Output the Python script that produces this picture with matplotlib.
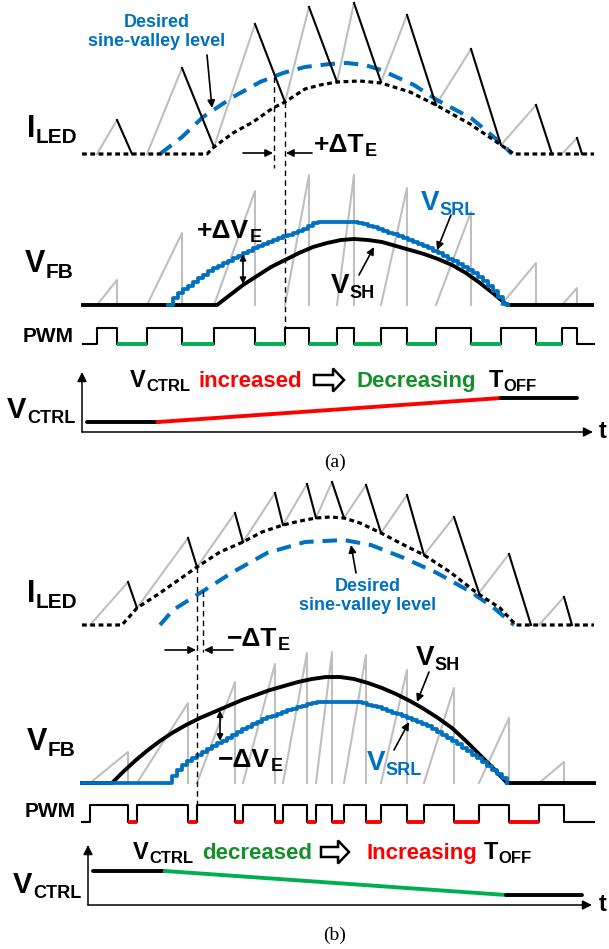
import numpy as np
import matplotlib.pyplot as plt
from matplotlib.patches import FancyArrow

plt.rcParams['font.family'] = ['Liberation Sans', 'DejaVu Sans']
plt.rcParams['font.weight'] = 'bold'

W, H = 609, 949
BLUE, GRAY, RED = '#0070C0', '#BFBFBF', '#FF0000'
GREEN, GREEN_TXT = '#00B050', '#14902A'
AXC = '#3F3F3F'

# ---------------- (a) V_CTRL increased ----------------
# time axis in px, levels in px above each trace's baseline
pwm_rise_a = [97, 147, 214, 285, 337, 381, 436, 501, 562]
pwm_fall_a = [117, 182, 255, 309, 354, 407, 471, 536, 577]
iled_valley_a = [0, 0, 7, 52, 72, 72, 49, 9, 0]
iled_peak_a = [34, 86, 130, 147, 151, 139, 105, 49, 16]
iled_end_x_a = [132, 214, 285, 337, 381, 436, 501, 552, 582]
iled_end_a = [0, 7, 52, 72, 72, 49, 9, 0, 0]
valley_x_a = [82, 207, 214, 233, 253, 273, 285, 305, 320, 337, 360, 381, 410, 436, 470, 501, 514, 594]
valley_a = [0, 0, 7, 21, 32, 46, 52, 65, 69, 72, 73, 71, 62, 49, 30, 9, 0, 0]
desired_x_a = [160, 182, 203, 233, 260, 283, 305, 330, 347, 365, 381, 414, 437, 471, 501, 512]
desired_a = [0, 17, 37, 57, 72, 81, 87, 90, 91, 89, 84, 69, 54, 36, 11, 0]
ramp_pk_a = [25, 72, 114, 130, 130, 117, 93, 42, 17]
vsh_x_a = [83, 217, 230, 243, 257, 271, 285, 299, 313, 327, 341, 354, 368, 382,
           396, 410, 424, 438, 452, 466, 480, 494, 507, 592]
vsh_a = [0, 0, 10, 20, 29, 38, 45, 52, 58, 62, 65, 66, 65, 63,
         59, 55, 51, 46, 40, 32, 22, 11, 0, 0]
srl_t0_a, srl_flat_a = 168, 168
srl_a = [0, 7, 12, 16, 19, 23, 27, 30, 34, 37,
         39, 42, 44, 47, 49, 52, 54, 57, 59, 61,
         63, 65, 67, 69, 70, 72, 74, 76, 79, 82,
         83, 83, 83, 83, 83, 83, 83, 83, 82, 81,
         79, 78, 76, 74, 72, 71, 69, 67, 65, 63,
         61, 59, 57, 54, 52, 49, 46, 44, 41, 38,
         35, 32, 28, 24, 19, 14, 8, 1, 0]
vctrl_x_a = [87, 158, 501, 577]
vctrl_a = [10, 10, 34, 34]
dte_a = [274, 285]

# ---------------- (b) V_CTRL decreased ----------------
pwm_rise_b = [90, 137, 197, 243, 283, 316, 344, 381, 424, 479, 539]
pwm_fall_b = [128, 188, 235, 275, 307, 332, 366, 407, 454, 509, 564]
iled_valley_b = [0, 17, 58, 83, 100, 107, 107, 92, 70, 32, 0]
iled_peak_b = [43, 87, 112, 132, 141, 143, 140, 130, 108, 71, 28]
iled_end_x_b = [137, 197, 243, 283, 316, 344, 381, 424, 479, 531, 572]
iled_end_b = [17, 58, 83, 100, 107, 107, 92, 70, 32, 0, 0]
valley_x_b = [82, 122, 137, 160, 197, 220, 243, 262, 283, 300, 316, 330, 344, 360,
              381, 400, 424, 450, 477, 500, 516, 594]
valley_b = [0, 0, 17, 32, 58, 73, 83, 93, 100, 104, 107, 108, 107, 102,
            92, 82, 70, 53, 32, 17, 0, 0]
desired_x_b = [160, 173, 200, 233, 267, 305, 344, 371, 404, 437, 471, 494, 514]
desired_b = [0, 15, 32, 53, 72, 83, 85, 80, 67, 52, 33, 17, 0]
ramp_pk_b = [31, 80, 101, 119, 130, 131, 128, 113, 95, 65, 21]
vsh_x_b = [82, 112, 124, 136, 148, 160, 172, 186, 200, 214, 228, 242, 256, 270, 284, 298,
           312, 326, 340, 354, 368, 382, 396, 410, 424, 438, 452, 466, 480, 494, 507, 594]
vsh_b = [0, 0, 12, 23, 33, 42, 50, 58, 65, 71, 77, 83, 88, 93, 97, 101,
         104, 106, 106, 104, 100, 95, 89, 82, 74, 65, 55, 42, 28, 14, 0, 0]
srl_t0_b, srl_flat_b = 167, 82
srl_b = [0, 7, 13, 18, 22, 25, 28, 31, 34, 37,
         40, 42, 45, 48, 51, 54, 56, 59, 61, 64,
         66, 67, 69, 71, 73, 74, 76, 77, 79, 80,
         81, 81, 81, 81, 81, 81, 81, 81, 81, 80,
         78, 77, 76, 74, 72, 70, 69, 67, 65, 63,
         61, 59, 57, 54, 51, 48, 45, 42, 39, 35,
         32, 28, 25, 21, 17, 13, 9, 5, 0]
vctrl_x_b = [93, 165, 506, 582]
vctrl_b = [34, 34, 10, 10]
dte_b = [197, 203]

fig = plt.figure(figsize=(W / 100, H / 100), dpi=100)


def panel(base, top, bottom, scale=1.0):
    ax = fig.add_axes([0, 1 - bottom / H, 1, (bottom - top) / H])
    ax.set_xlim(0, W)
    ax.set_ylim((base - bottom) / scale, (base - top) / scale)
    ax.axis('off')
    return ax


def draw_iled(ax, rise, fall, valley, peak, end_x, end_l, val_x, val_l, des_x, des_l):
    ax.plot(des_x, des_l, color=BLUE, lw=2.9, ls=(0, (3.6, 2.2)), clip_on=False, zorder=2)
    for r, f, v, p, ex, el in zip(rise, fall, valley, peak, end_x, end_l):
        ax.plot([r, f], [v, p], color=GRAY, lw=1.5, clip_on=False, zorder=1)
        ax.plot([f, ex], [p, el], color='black', lw=1.5, clip_on=False, zorder=3)
    ax.plot(val_x, val_l, color='black', lw=2.3, ls=(0, (1.5, 1.1)), clip_on=False, zorder=4)


def draw_vfb(ax, rise, fall, ramp, sh_x, sh, t0, srl, flat):
    for r, f, p in zip(rise, fall, ramp):
        ax.plot([r, f, f], [0, p, 0], color=GRAY, lw=1.5, clip_on=False, zorder=1)
    ax.plot(sh_x, sh, color='black', lw=2.8, clip_on=False, zorder=2)
    xs = list(np.arange(t0, t0 + 5 * len(srl), 5))
    ys = list(srl)
    if flat < t0:
        xs, ys = [flat] + xs, [0] + ys
    ax.plot(xs, ys, color=BLUE, lw=2.7, drawstyle='steps-post', clip_on=False, zorder=3)


def draw_pwm(ax, x0, x1, rise, fall, off_color):
    xs, ys = [x0], [0]
    for r, f in zip(rise, fall):
        xs += [r, r, f, f]
        ys += [0, 1, 1, 0]
    xs.append(x1)
    ys.append(0)
    ax.plot(xs, ys, color='black', lw=1.5, clip_on=False)
    for f, r in zip(fall[:-1], rise[1:]):
        ax.plot([f, r], [0, 0], color=off_color, lw=2.8, solid_capstyle='butt', clip_on=False)


def draw_vctrl(ax, x, lvl, mid_color):
    ax.plot(x[:2], lvl[:2], color='black', lw=2.8, solid_capstyle='round', clip_on=False)
    ax.plot(x[1:3], lvl[1:3], color=mid_color, lw=2.8, clip_on=False)
    ax.plot(x[2:], lvl[2:], color='black', lw=2.8, solid_capstyle='round', clip_on=False)


# (a) traces
draw_iled(panel(154, 0, 175), pwm_rise_a, pwm_fall_a, iled_valley_a, iled_peak_a,
          iled_end_x_a, iled_end_a, valley_x_a, valley_a, desired_x_a, desired_a)
draw_vfb(panel(305, 160, 315), pwm_rise_a, pwm_fall_a, ramp_pk_a, vsh_x_a, vsh_a,
         srl_t0_a, srl_a, srl_flat_a)
draw_pwm(panel(344, 320, 350, 16), 83, 594, pwm_rise_a, pwm_fall_a, GREEN)
draw_vctrl(panel(432, 360, 445), vctrl_x_a, vctrl_a, RED)

# (b) traces
draw_iled(panel(625, 470, 640), pwm_rise_b, pwm_fall_b, iled_valley_b, iled_peak_b,
          iled_end_x_b, iled_end_b, valley_x_b, valley_b, desired_x_b, desired_b)
draw_vfb(panel(783, 640, 795), pwm_rise_b, pwm_fall_b, ramp_pk_b, vsh_x_b, vsh_b,
         srl_t0_b, srl_b, srl_flat_b)
draw_pwm(panel(822, 795, 830, 17), 82, 594, pwm_rise_b, pwm_fall_b, RED)
draw_vctrl(panel(905, 835, 915), vctrl_x_b, vctrl_b, GREEN)

# overlay for labels and annotations (pixel coordinates)
ov = fig.add_axes([0, 0, 1, 1])
ov.set_xlim(0, W)
ov.set_ylim(H, 0)
ov.axis('off')


def sub_text(x, y, main, sub, size, sub_size, color='black'):
    t = ov.text(x, y, main, fontsize=size, color=color, va='baseline', ha='left')
    ov.annotate(sub, xy=(1, 0), xycoords=t, xytext=(0.3, 0.5), textcoords='offset points',
                fontsize=sub_size, color=color, va='baseline', ha='left')


def arrow(x0, y0, x1, y1, style='-|>', ms=11, lw=1.2):
    ov.annotate('', xy=(x1, y1), xytext=(x0, y0),
                arrowprops=dict(arrowstyle=style, color='black', lw=lw,
                                mutation_scale=ms, shrinkA=0, shrinkB=0))


def vline(x, y0, y1):
    ov.plot([x, x], [y0, y1], color='black', lw=1.0, ls=(0, (4, 3)))


def hollow_arrow(x, y, length):
    ov.add_patch(FancyArrow(x, y, length, 0, width=10, head_width=23, head_length=11,
                            length_includes_head=True, fc='white', ec='black', lw=1.8))


def t_axes(x0, y0, ytop, xend, tx, ty):
    arrow(x0, y0, x0, ytop, ms=14, lw=1.1)
    arrow(x0, y0, xend, y0, ms=14, lw=1.1)
    ov.text(tx, ty, 't', fontsize=17, va='baseline', ha='left')


# ---- (a) labels ----
sub_text(27, 137, 'I', 'LED', 22, 15)
sub_text(25, 272, 'V', 'FB', 22, 15)
ov.text(23, 342, 'PWM', fontsize=15, va='baseline')
sub_text(7, 418, 'V', 'CTRL', 21, 13)

ov.text(157, 27, 'Desired', fontsize=13, color=BLUE, ha='center', va='baseline')
ov.text(157, 46, 'sine-valley level', fontsize=13, color=BLUE, ha='center', va='baseline')
arrow(207, 55, 212, 108)

vline(dte_a[0], 154 - np.interp(dte_a[0], desired_x_a, desired_a), 168)
vline(dte_a[1], 154 - np.interp(dte_a[1], valley_x_a, valley_a), 328)
arrow(243, 153, dte_a[0] - 1, 153)
arrow(312, 153, dte_a[1] + 1, 153)
sub_text(314, 152, '+ΔT', 'E', 19, 13)

sub_text(197, 238, '+ΔV', 'E', 19, 13)
xa = 243
srl_xs_a = np.arange(srl_t0_a, srl_t0_a + 5 * len(srl_a), 5)
arrow(xa, 305 - np.interp(xa, srl_xs_a, srl_a) + 1, xa, 305 - np.interp(xa, vsh_x_a, vsh_a) - 1,
      style='<|-|>', ms=9)
sub_text(421, 210, 'V', 'SRL', 20, 13, BLUE)
arrow(451, 215, 437, 250)
sub_text(331, 293, 'V', 'SH', 20, 13)
arrow(359, 275, 374, 247)

sub_text(130, 387, 'V', 'CTRL', 17, 12)
ov.text(198, 387, 'increased', fontsize=16, color=RED, va='baseline')
hollow_arrow(314, 380, 30)
ov.text(357, 387, 'Decreasing', fontsize=16, color=GREEN_TXT, va='baseline')
sub_text(489, 387, 'T', 'OFF', 17, 12)
t_axes(82, 432, 372, 593, 599, 438)
ov.text(335, 462, '(a)', fontsize=14, fontweight='normal', family='Liberation Serif',
        ha='center', va='center')

# ---- (b) labels ----
sub_text(27, 602, 'I', 'LED', 22, 15)
sub_text(27, 750, 'V', 'FB', 22, 15)
ov.text(25, 817, 'PWM', fontsize=15, va='baseline')
sub_text(13, 893, 'V', 'CTRL', 21, 13)

ov.text(368, 591, 'Desired', fontsize=13, color=BLUE, ha='center', va='baseline')
ov.text(368, 610, 'sine-valley level', fontsize=13, color=BLUE, ha='center', va='baseline')
arrow(356, 573, 351, 545)

vline(dte_b[0], 625 - np.interp(dte_b[0], valley_x_b, valley_b), 805)
vline(dte_b[1], 625 - np.interp(dte_b[1], desired_x_b, desired_b), 652)
arrow(165, 650, dte_b[0] - 1, 650)
arrow(233, 650, dte_b[1] + 1, 650)
sub_text(227, 646, '−ΔT', 'E', 19, 13)

xb = 220
srl_xs_b = np.arange(srl_t0_b, srl_t0_b + 5 * len(srl_b), 5)
arrow(xb, 783 - np.interp(xb, vsh_x_b, vsh_b) + 1, xb, 783 - np.interp(xb, srl_xs_b, srl_b) - 1,
      style='<|-|>', ms=9)
sub_text(218, 767, '−ΔV', 'E', 19, 13)
sub_text(416, 665, 'V', 'SH', 20, 13)
arrow(429, 672, 417, 702)
sub_text(367, 770, 'V', 'SRL', 20, 13, BLUE)
arrow(394, 750, 409, 722)

sub_text(133, 859, 'V', 'CTRL', 17, 12)
ov.text(202, 859, 'decreased', fontsize=16, color=GREEN_TXT, va='baseline')
hollow_arrow(321, 852, 28)
ov.text(367, 859, 'Increasing', fontsize=16, color=RED, va='baseline')
sub_text(484, 859, 'T', 'OFF', 17, 12)
t_axes(88, 905, 845, 592, 599, 911)
ov.text(335, 935, '(b)', fontsize=14, fontweight='normal', family='Liberation Serif',
        ha='center', va='center')

fig.savefig('out.png', dpi=100, facecolor='white')
